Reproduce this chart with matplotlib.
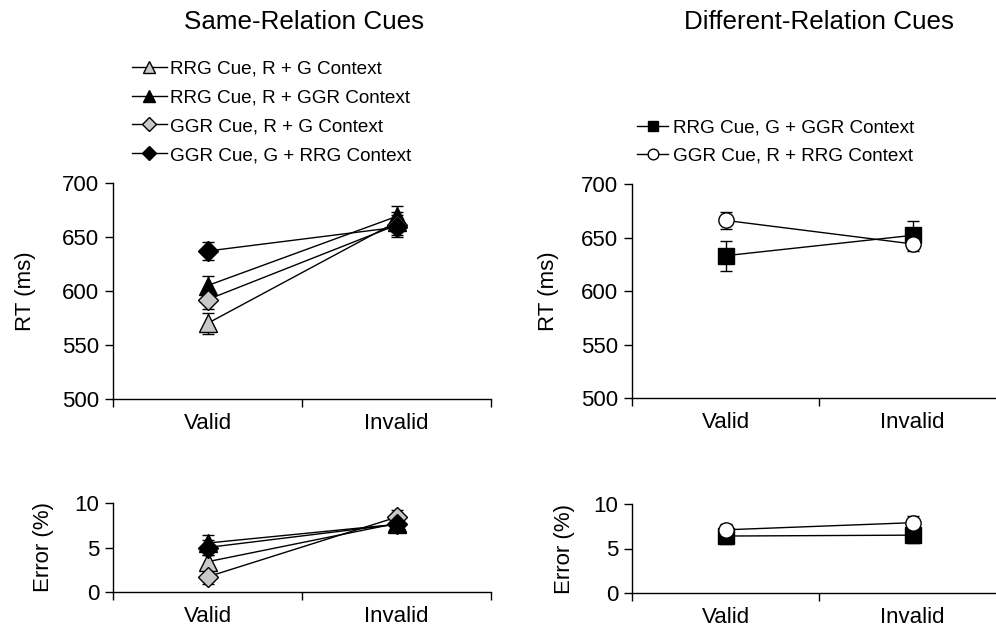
import matplotlib
matplotlib.use("Agg")
import matplotlib.pyplot as plt
from matplotlib.lines import Line2D
import numpy as np

plt.rcParams['font.family'] = ['Liberation Sans', 'DejaVu Sans']

conditions = ["Valid", "Invalid"]

same_labels = ["RRG Cue, R + G Context", "RRG Cue, R + GGR Context",
               "GGR Cue, R + G Context", "GGR Cue, G + RRG Context"]
same_rt = [[570, 664], [605, 669], [592, 661], [637, 659]]
same_rt_err = [[10, 9], [9, 10], [9, 9], [8.5, 9]]
same_err = [[3.4, 7.7], [5.5, 7.6], [1.7, 8.4], [5.0, 7.6]]
same_err_err = [[0.8, 0.6], [0.9, 0.6], [0.8, 0.8], [0.8, 0.6]]

diff_labels = ["RRG Cue, G + GGR Context", "GGR Cue, R + RRG Context"]
diff_rt = [[633, 652], [666, 644]]
diff_rt_err = [[14, 13], [8, 7]]
diff_err = [[6.4, 6.5], [7.1, 7.9]]
diff_err_err = [[0.9, 0.9], [0.7, 0.8]]

same_style = [dict(marker='^', mfc='#c8c8c8', ms=13),
              dict(marker='^', mfc='black', ms=13),
              dict(marker='D', mfc='#c8c8c8', ms=10),
              dict(marker='D', mfc='black', ms=10)]
diff_style = [dict(marker='s', mfc='black', ms=11),
              dict(marker='o', mfc='white', ms=11)]

W, H = 996, 632
fig = plt.figure(figsize=(W / 100, H / 100), dpi=100)

def px_axes(x0, x1, ytop, ybot):
    return fig.add_axes([x0 / W, 1 - ybot / H, (x1 - x0) / W, (ybot - ytop) / H])

ax_tl = px_axes(113, 491, 183, 399)
ax_bl = px_axes(113, 491, 503, 592)
ax_tr = px_axes(632, 1006, 184, 398)
ax_br = px_axes(632, 1006, 504, 593)

xpos = np.array([0.5, 1.5])

def draw(ax, vals, errs, styles):
    for v, e, st in zip(vals, errs, styles):
        ax.errorbar(xpos, v, yerr=e, color='black', lw=1.0, elinewidth=1.0,
                    capsize=4, capthick=1.0, mec='black', mew=1.0, zorder=3, **st)

def style(ax, ylim, yticks, ylabel):
    ax.set_xlim(0, 2)
    ax.set_ylim(*ylim)
    ax.set_yticks(yticks)
    ax.set_xticks([0, 1, 2])
    ax.set_xticklabels([])
    ax.set_xticks(xpos, minor=True)
    ax.set_xticklabels(conditions, minor=True)
    ax.tick_params(axis='x', which='minor', length=0, pad=10, labelsize=16)
    ax.tick_params(axis='x', which='major', length=6, width=1)
    ax.tick_params(axis='y', length=6, width=1, labelsize=16, pad=4)
    for s in ['top', 'right']:
        ax.spines[s].set_visible(False)
    for s in ['left', 'bottom']:
        ax.spines[s].set_linewidth(1)
    ax.set_ylabel(ylabel, fontsize=16)
    ax.patch.set_alpha(0)

draw(ax_tl, same_rt, same_rt_err, same_style)
draw(ax_bl, same_err, same_err_err, same_style)
draw(ax_tr, diff_rt, diff_rt_err, diff_style)
draw(ax_br, diff_err, diff_err_err, diff_style)

for ax in (ax_tl, ax_tr):
    style(ax, (500, 700), [500, 550, 600, 650, 700], "RT (ms)")
for ax in (ax_bl, ax_br):
    style(ax, (0, 10), [0, 5, 10], "Error (%)")

ax_tl.yaxis.set_label_coords(-0.205, 0.5)
ax_tr.yaxis.set_label_coords(-0.195, 0.5)
ax_bl.yaxis.set_label_coords(-0.155, 0.5)
ax_br.yaxis.set_label_coords(-0.152, 0.5)

fig.text(304 / W, 1 - 22 / H, "Same-Relation Cues", ha='center', va='center', fontsize=18.7)
fig.text(819 / W, 1 - 22 / H, "Different-Relation Cues", ha='center', va='center', fontsize=18.7)

def handles(styles):
    out = []
    for st in styles:
        ms = st['ms'] * 0.7
        out.append(Line2D([0], [0], color='black', lw=1.0, marker=st['marker'],
                          mfc=st['mfc'], mec='black', ms=ms))
    return out

fig.legend(handles(same_style), same_labels, loc='upper left',
           bbox_to_anchor=(132 / W, 1 - 60 / H), frameon=False, fontsize=13.6,
           handlelength=1.85, handletextpad=0.15, labelspacing=0.62, borderpad=0,
           borderaxespad=0)
fig.legend(handles(diff_style), diff_labels, loc='upper left',
           bbox_to_anchor=(637 / W, 1 - 119 / H), frameon=False, fontsize=13.6,
           handlelength=1.65, handletextpad=0.25, labelspacing=0.58, borderpad=0,
           borderaxespad=0)

fig.savefig("out.png", dpi=100)
